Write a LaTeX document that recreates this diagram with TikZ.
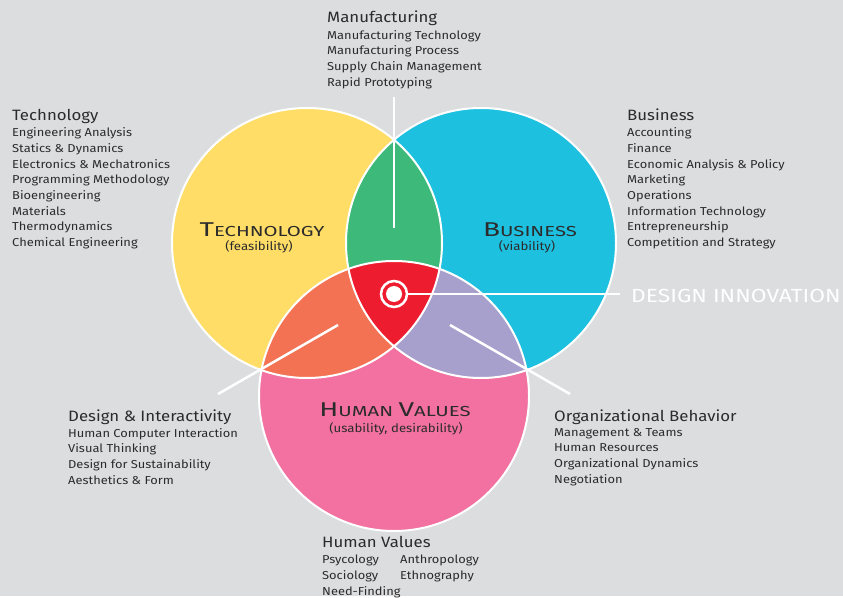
\documentclass[tikz,border=0pt]{standalone}
\usepackage{fontspec}
\setmainfont{Fira Sans}[FakeStretch=1.12]
\newfontfamily\widefont{Fira Sans}[FakeStretch=1.4]
\newfontfamily\innofont{Fira Sans}[FakeStretch=1.2]
\usetikzlibrary{positioning}
\definecolor{bggray}{HTML}{DCDDDF}
\definecolor{textgray}{HTML}{2B2B2B}
\definecolor{techyellow}{HTML}{FFDD66}
\definecolor{busblue}{HTML}{1EC0E0}
\definecolor{humpink}{HTML}{F271A0}
\definecolor{mfggreen}{HTML}{3DB97A}
\definecolor{desorange}{HTML}{F37254}
\definecolor{orglilac}{HTML}{A7A0CD}
\definecolor{innored}{HTML}{EE1C2F}
\newcommand{\bigcapital}[1]{{\fontsize{20}{24}\selectfont #1}}

\begin{document}
\begin{tikzpicture}[x=1pt,y=-1pt,
  wline/.style={draw=white,line width=2.5pt},
  rim/.style={draw=white,line width=2pt},
  head/.style={anchor=base west,inner sep=0pt,text=textgray,font=\fontsize{15}{18}\selectfont},
  list/.style={anchor=north west,inner sep=0pt,align=left,text=textgray,font=\fontsize{11.5}{15.7}\selectfont},
  title/.style={anchor=base,inner sep=0pt,text=textgray,font=\widefont\fontsize{14.5}{18}\selectfont},
  sub/.style={anchor=base,inner sep=0pt,text=textgray,font=\fontsize{11.8}{14}\selectfont}]
  % background
  \fill[bggray] (0,0) rectangle (843,596);
  % circle centres
  \coordinate (T) at (307,243);
  \coordinate (B) at (481,243);
  \coordinate (H) at (394,396);
  \fill[techyellow] (T) circle[radius=135pt];
  \fill[busblue] (B) circle[radius=135pt];
  \fill[humpink] (H) circle[radius=135pt];
  % overlaps
  \begin{scope}
    \clip (T) circle[radius=135pt];
    \fill[mfggreen] (B) circle[radius=135pt];
    \fill[desorange] (H) circle[radius=135pt];
  \end{scope}
  \begin{scope}
    \clip (B) circle[radius=135pt];
    \fill[orglilac] (H) circle[radius=135pt];
  \end{scope}
  \begin{scope}
    \clip (T) circle[radius=135pt];
    \clip (B) circle[radius=135pt];
    \fill[innored] (H) circle[radius=135pt];
  \end{scope}
  \draw[rim] (T) circle[radius=135pt];
  \draw[rim] (B) circle[radius=135pt];
  \draw[rim] (H) circle[radius=135pt];

  % circle titles
  \node[title] (techtitle) at (262,236.7) {\bigcapital{T}ECHNOLOGY};
  \node[sub] (techsub) at (259,250) {(feasibility)};
  \node[title] (bustitle) at (530,236.7) {\bigcapital{B}USINESS};
  \node[sub] (bussub) at (527,250) {(viability)};
  \node[title] (humtitle) at (395,416.7) {\bigcapital{H}UMAN \bigcapital{V}ALUES};
  \node[sub] (humsub) at (396,432.7) {(usability, desirability)};

  % target
  \node[circle,fill=white,minimum size=16pt,inner sep=0pt] (dot) at (394,294) {};
  \node[circle,draw=white,line width=2.5pt,minimum size=26pt,inner sep=0pt] (ring) at (394,294) {};
  \node[anchor=base west,inner sep=0pt,text=white,font=\innofont\fontsize{19}{22}\selectfont] (inno) at (631,302.3) {DESIGN INNOVATION};
  \draw[wline,shorten >=11pt] (ring.east) -- (ring.east -| inno.west);

  % pointer lines
  \coordinate (mfgtip) at (394,228);
  \coordinate (mfgtop) at (394,97);
  \coordinate (destip) at (338,325);
  \coordinate (desend) at (218,394);
  \coordinate (orgtip) at (450,325);
  \coordinate (orgend) at (570,394);
  \draw[wline] (mfgtip) -- (mfgtop);
  \draw[wline] (destip) -- (desend);
  \draw[wline] (orgtip) -- (orgend);

  % text lists
  \node[head] (mfghead) at (327,22.7) {Manufacturing};
  \node[list] (mfglist) at (327,30) {Manufacturing Technology\\Manufacturing Process\\Supply Chain Management\\Rapid Prototyping};
  \node[head] (techhead) at (12,120.7) {Technology};
  \node[list] (techlist) at (12,127.5) {Engineering Analysis\\Statics \& Dynamics\\Electronics \& Mechatronics\\Programming Methodology\\Bioengineering\\Materials\\Thermodynamics\\Chemical Engineering};
  \node[head] (bushead) at (627,120.7) {Business};
  \node[list] (buslist) at (627,127.5) {Accounting\\Finance\\Economic Analysis \& Policy\\Marketing\\Operations\\Information Technology\\Entrepreneurship\\Competition and Strategy};
  \node[head] (deshead) at (68,421) {Design \& Interactivity};
  \node[list] (deslist) at (68,428) {Human Computer Interaction\\Visual Thinking\\Design for Sustainability\\Aesthetics \& Form};
  \node[head] (orghead) at (554,421) {Organizational Behavior};
  \node[list] (orglist) at (554,428) {Management \& Teams\\Human Resources\\Organizational Dynamics\\Negotiation};
  \node[head] (humhead) at (322,547.3) {Human Values};
  \node[list] (humlistA) at (322,555) {Psycology\\Sociology\\Need-Finding};
  \node[list] (humlistB) at (400,555) {Anthropology\\Ethnography};
\end{tikzpicture}
\end{document}
